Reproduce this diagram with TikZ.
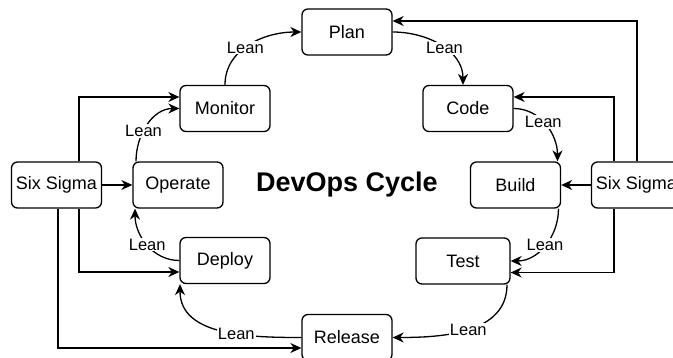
\documentclass[tikz,border=0pt]{standalone}
\usepackage{fontspec}
\setmainfont{Liberation Sans}
\usetikzlibrary{arrows.meta}
\begin{document}
\begin{tikzpicture}[x=1pt,y=-1pt,
  box/.style={draw,line width=1.3pt,rounded corners=6pt,minimum width=90pt,minimum height=46pt,
    inner sep=0pt,font=\fontsize{18pt}{20pt}\selectfont,fill=white},
  link/.style={line width=1.3pt,-{Stealth[length=11pt,width=10pt,inset=3.5pt]}},
  lbl/.style={fill=white,inner sep=1pt,font=\fontsize{16.5pt}{18pt}\selectfont}]
\useasboundingbox (0,0) rectangle (673,358);
\clip (0,0) rectangle (673,358);

% stages of the cycle
\node[box] (plan)  at (347,32)    {Plan};
\node[box] (code)  at (468,108.5) {Code};
\node[box] (build) at (515.5,185) {Build};
\node[box,minimum width=94pt] (test) at (463,261) {Test};
\node[box] (rel)   at (347,337.5) {Release};
\node[box] (dep)   at (225,260.5) {Deploy};
\node[box] (op)    at (178,185)   {Operate};
\node[box] (mon)   at (225,108.5) {Monitor};

% six sigma sources
\node[box] (ssl) at (56.5,185) {Six Sigma};
\node[box] (ssr) at (636.5,185) {Six Sigma};

\node[font=\fontsize{27pt}{30pt}\selectfont\bfseries] (title) at (347,185) {DevOps Cycle};

% six sigma feeds, left side
\draw[link] (ssl.east) -- (op.west);
\draw[link] ([xshift=22.5pt]ssl.north) |- ([yshift=11.5pt]mon.west);
\draw[link] ([xshift=22.5pt]ssl.south) |- ([yshift=-11.5pt]dep.west);
\draw[link] ([xshift=1.5pt]ssl.south) |- ([yshift=-10.5pt]rel.west);

% six sigma feeds, right side
\draw[link] (ssr.west) -- (build.east);
\draw[link] ([xshift=0.5pt]ssr.north) |- ([yshift=11pt]plan.east);
\draw[link] ([xshift=-22.5pt]ssr.north) |- ([yshift=11.5pt]code.east);
\draw[link] ([xshift=-22.5pt]ssr.south) |- ([yshift=-11.5pt]test.east);

% lean transitions around the cycle
\draw[link] (mon.north) to[out=90,in=180] node[lbl,pos=0.45] {Lean} (plan.west);
\draw[link] (plan.east) to[out=0,in=90] node[lbl,pos=0.55] {Lean} ([xshift=-5pt]code.north);
\draw[link] (code.east) to[out=0,in=90] node[lbl,pos=0.45] {Lean} ([xshift=42pt]build.north);
\draw[link] ([xshift=43pt]build.south) to[out=-90,in=0] node[lbl,pos=0.5] {Lean} (test.east);
\draw[link] ([xshift=44pt]test.south) to[out=-90,in=0] node[lbl,pos=0.5] {Lean} (rel.east);
\draw[link] (rel.west) to[out=180,in=-90] node[lbl,pos=0.4] {Lean} ([xshift=-45pt]dep.south);
\draw[link] (dep.west) to[out=180,in=-90] node[lbl,pos=0.5] {Lean} ([xshift=-43pt]op.south);
\draw[link] ([xshift=-42pt]op.north) to[out=90,in=180] node[lbl,pos=0.4] {Lean} (mon.west);
\end{tikzpicture}
\end{document}
